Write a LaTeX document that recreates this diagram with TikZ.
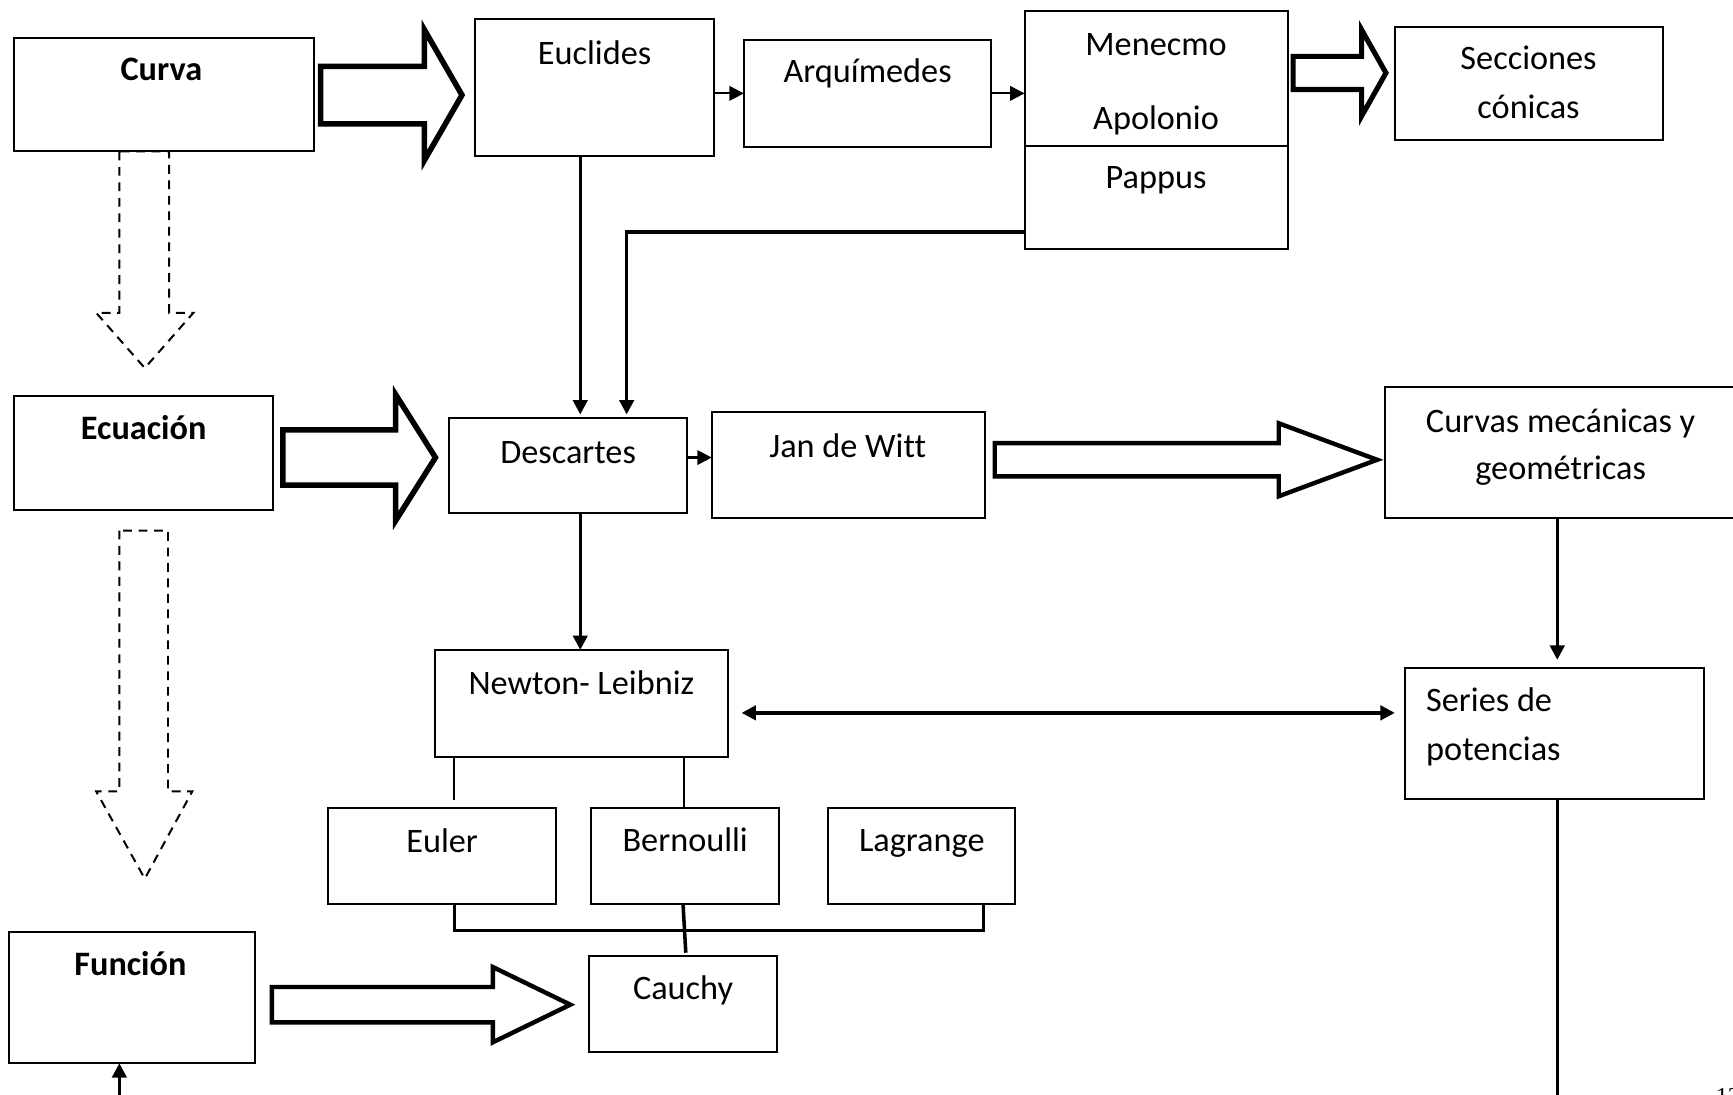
\documentclass[tikz,border=0pt]{standalone}
\usepackage{fontspec}
\setmainfont{Carlito}[Ligatures=NoCommon]
\newfontfamily\pagefont{Liberation Serif}
\usetikzlibrary{arrows.meta,calc}
\newcommand\bx[5]{\node[box, anchor=north west, minimum width={(#4-#2)*0.5pt}, minimum height={(#5-#3)*0.5pt}] (#1) at (#2,#3) {};}
\newcommand\harrow[7]{\draw[#7] ({#1},{#4-#5}) -- ({#2},{#4-#5}) -- ({#2},{#4-#6}) -- ({#3},{#4}) -- ({#2},{#4+#6}) -- ({#2},{#4+#5}) -- ({#1},{#4+#5}) -- cycle;}
\begin{document}
\begin{tikzpicture}[x=0.5pt,y=-0.5pt,
  box/.style={draw, line width=0.9pt, inner sep=0pt, outer sep=0pt},
  txt/.style={inner sep=0pt, font=\fontsize{15.5}{18}\selectfont},
  tip/.style={-{Triangle[length=6.5pt,width=6.5pt]}},
  conn/.style={line width=1.5pt},
  thinconn/.style={line width=0.7pt},
  hollow/.style={line width=#1, miter limit=20},
  dhollow/.style={line width=0.9pt, dash pattern=on 4pt off 3pt}
]
\useasboundingbox (0,0) rectangle (1568,990);
\clip (0,0) rectangle (1568,990);

% boxes
\bx{curva}{13}{34}{284}{137}
\bx{euclides}{430}{17}{646}{141}
\bx{arq}{673}{36}{897}{133}
\bx{men}{927}{10}{1165}{132}
\bx{pappus}{927}{132}{1165}{225}
\bx{secc}{1262}{24}{1505}{127}
\bx{ecuacion}{13}{358}{247}{461}
\bx{descartes}{406}{378}{622}{464}
\bx{jan}{644}{373}{891}{469}
\bx{curvas}{1253}{350}{1572}{469}
\bx{newton}{394}{588}{659}{685}
\bx{series}{1271}{604}{1542}{723}
\bx{euler}{297}{731}{503}{818}
\bx{bern}{535}{731}{705}{818}
\bx{lag}{749}{731}{918}{818}
\bx{funcion}{8}{843}{231}{962}
\bx{cauchy}{533}{865}{703}{952}

% texts
\node[txt, anchor=base] (curva-t) at (146,73) {\bfseries Curva};
\node[txt, anchor=base] (euclides-t) at (538,58) {Euclides};
\node[txt, anchor=base] (arq-t) at (785,75) {Arquímedes};
\node[txt, anchor=base] (men-t) at (1046,50) {Menecmo};
\node[txt, anchor=base] (apol-t) at (1046,117) {Apolonio};
\node[txt, anchor=base] (pappus-t) at (1046,171) {Pappus};
\node[txt, anchor=base] (secc-t1) at (1383,63) {Secciones};
\node[txt, anchor=base] (secc-t2) at (1383,107) {cónicas};
\node[txt, anchor=base] (ecuacion-t) at (130,398) {\bfseries Ecuación};
\node[txt, anchor=base] (descartes-t) at (514,419) {Descartes};
\node[txt, anchor=base] (jan-t) at (767,414) {Jan de Witt};
\node[txt, anchor=base] (curvas-t1) at (1412,391) {Curvas mecánicas y};
\node[txt, anchor=base] (curvas-t2) at (1412,434) {geométricas};
\node[txt, anchor=base] (newton-t) at (526,628) {Newton- Leibniz};
\node[txt, anchor=base west] (series-t1) at (1290,644) {Series de};
\node[txt, anchor=base west] (series-t2) at (1290,688) {potencias};
\node[txt, anchor=base] (euler-t) at (400,771) {Euler};
\node[txt, anchor=base] (bern-t) at (620,770) {Bernoulli};
\node[txt, anchor=base] (lag-t) at (834,770) {Lagrange};
\node[txt, anchor=base] (funcion-t) at (118,883) {\bfseries Función};
\node[txt, anchor=base] (cauchy-t) at (618,904) {Cauchy};
\node[inner sep=0pt, anchor=north west, font=\pagefont\fontsize{11}{12}\selectfont] (pagenum) at (1552,984.5) {12};

% helper coordinates
\coordinate (x411) at (411,0);
\coordinate (x525) at (525,0);
\coordinate (x567) at (567,0);
\coordinate (x618) at (618,0);
\coordinate (x619) at (619,0);
\coordinate (x890) at (890,0);
\coordinate (x1409) at (1409,0);
\coordinate (y210) at (0,210);
\coordinate (y414) at (0,414);
\coordinate (y645) at (0,645);
\coordinate (y842) at (0,842);
\coordinate (ybot) at (0,1000);
\coordinate (bcend) at (620.5,862);
\coordinate (fstart) at (108,1000);

% hollow block arrows
\harrow{290}{384}{418}{86}{26}{59}{hollow=2.5pt}
\harrow{1170}{1232}{1254}{66}{15}{39}{hollow=2.3pt}
\harrow{256}{358}{394}{414}{25}{57}{hollow=2.5pt}
\harrow{900}{1157}{1246}{416}{15}{33}{hollow=2pt}
\harrow{246}{446}{516}{909}{16}{34}{hollow=2pt}

% dashed hollow arrows
\draw[dhollow] (108,137) -- (108,283) -- (87,283) -- (131,333) -- (175,283) -- (153,283) -- (153,137) -- cycle;
\draw[dhollow] (108,480) -- (108,716) -- (87,716) -- (131,795) -- (174,716) -- (152,716) -- (152,480) -- cycle;

% connectors
\draw[tip, line width=1pt] (euclides.east |- arq.west) -- (arq.west);
\draw[tip, line width=1pt] (arq.east) -- (arq.east -| men.west);
\draw[tip, conn, shorten >=1.5pt] (euclides.south -| x525) -- (descartes.north -| x525);
\draw[tip, conn, shorten >=1.5pt] (pappus.west |- y210) -- (x567 |- y210) -- (descartes.north -| x567);
\draw[tip, line width=1pt] (descartes.east |- y414) -- (jan.west |- y414);
\draw[tip, conn] (descartes.south -| x525) -- (newton.north -| x525);
\draw[tip, conn, shorten >=3.5pt] (curvas.south -| x1409) -- (series.north -| x1409);
\draw[{Triangle[length=6.5pt,width=6.5pt]}-{Triangle[length=6.5pt,width=6.5pt]}, conn, shorten <=6pt, shorten >=4.5pt] (newton.east |- y645) -- (series.west |- y645);
\draw[thinconn, shorten >=3.5pt] (newton.south -| x411) -- (euler.north -| x411);
\draw[thinconn] (newton.south -| x619) -- (bern.north -| x619);
\draw[line width=1.4pt] (euler.south -| x411) -- (x411 |- y842) -- (x890 |- y842) -- (lag.south -| x890);
\draw[line width=1.6pt] (bern.south -| x618) -- (bcend);
\draw[line width=1.6pt] (series.south -| x1409) -- (x1409 |- ybot);
\draw[tip, conn] (fstart) -- (funcion.south -| fstart);
\end{tikzpicture}
\end{document}
